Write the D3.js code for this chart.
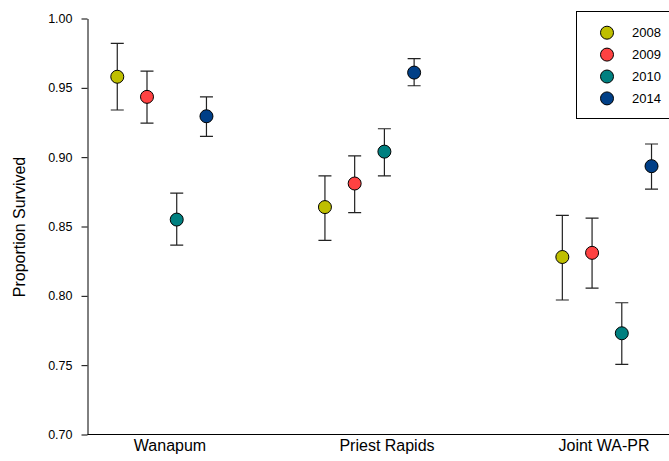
<!DOCTYPE html>
<html>
<head>
<meta charset="utf-8">
<script src="https://cdn.jsdelivr.net/npm/d3@7"></script>
<style>
  html, body { margin: 0; padding: 0; background: #fff; }
  svg { display: block; font-family: "Liberation Sans", Arial, sans-serif; }
</style>
</head>
<body>
<svg id="chart" width="669" height="461"></svg>
<script>
// Survival estimates by site and year, with confidence limits
const sites = ["Wanapum", "Priest Rapids", "Joint WA-PR"];
const sitePos = [1, 2, 3];                 // label positions on the x axis
const siteStart = [0.757, 1.714, 2.808];   // position of the first year's marker in each site
const yearStep = 0.137;                    // spacing between years within a site
const years = ["2008", "2009", "2010", "2014"];
const yearColors = ["#bfbf00", "#ff4242", "#008080", "#003f87"];

const est2008 = [0.958, 0.864, 0.828];
const est2009 = [0.9435, 0.881, 0.831];
const est2010 = [0.855, 0.904, 0.773];
const est2014 = [0.9295, 0.961, 0.8935];

const lo2008 = [0.934, 0.840, 0.797];
const hi2008 = [0.982, 0.8865, 0.858];
const lo2009 = [0.9245, 0.860, 0.8055];
const hi2009 = [0.962, 0.901, 0.856];
const lo2010 = [0.8365, 0.8865, 0.7505];
const hi2010 = [0.874, 0.9205, 0.795];
const lo2014 = [0.915, 0.9515, 0.877];
const hi2014 = [0.9435, 0.971, 0.9095];

const yTicks = [0.70, 0.75, 0.80, 0.85, 0.90, 0.95, 1.00];

const estimates = [est2008, est2009, est2010, est2014];
const lows = [lo2008, lo2009, lo2010, lo2014];
const highs = [hi2008, hi2009, hi2010, hi2014];

const points = [];
years.forEach((yr, yi) => {
  sites.forEach((s, si) => {
    points.push({
      year: yr, yi, site: s,
      x: siteStart[si] + yi * yearStep,
      v: estimates[yi][si], lo: lows[yi][si], hi: highs[yi][si]
    });
  });
});

const svg = d3.select("#chart");
const axisX = 87.5, axisBottom = 434.5, axisTop = 18.5;

const x = d3.scaleLinear().domain([1, 3]).range([170, 604]);
const y = d3.scaleLinear().domain([0.70, 1.00]).range([axisBottom, axisTop]);

// y axis
const yAxis = svg.append("g")
  .attr("transform", `translate(${axisX},0)`)
  .call(d3.axisLeft(y).tickValues(yTicks).tickFormat(d3.format(".2f"))
    .tickSize(6).tickSizeOuter(0).tickPadding(9));
yAxis.selectAll("path, line").attr("stroke", "#000").attr("stroke-width", 1);
yAxis.selectAll("text").attr("font-size", "12.5px").attr("fill", "#000")
  .attr("font-family", "Liberation Sans, Arial, sans-serif");

// x axis baseline
svg.append("line")
  .attr("x1", axisX).attr("x2", 669)
  .attr("y1", axisBottom).attr("y2", axisBottom)
  .attr("stroke", "#000").attr("stroke-width", 1);

svg.selectAll("text.site")
  .data(sites)
  .join("text")
  .attr("class", "site")
  .attr("x", (d, i) => x(sitePos[i]))
  .attr("y", 451)
  .attr("text-anchor", "middle")
  .attr("font-size", "16px")
  .attr("fill", "#000")
  .text(d => d);

// y axis title
svg.append("text")
  .attr("transform", "translate(25,227) rotate(-90)")
  .attr("text-anchor", "middle")
  .attr("font-size", "16px")
  .attr("fill", "#000")
  .text("Proportion Survived");

// error bars
const capHalf = 6.5;
const bars = svg.append("g").attr("stroke", "#222").attr("stroke-width", 1.2).attr("fill", "none");
bars.selectAll("path")
  .data(points)
  .join("path")
  .attr("d", d => {
    const cx = x(d.x), t = y(d.hi), b = y(d.lo);
    return `M${cx},${t}V${b}M${cx - capHalf},${t}H${cx + capHalf}M${cx - capHalf},${b}H${cx + capHalf}`;
  });

// markers
svg.append("g").selectAll("circle")
  .data(points)
  .join("circle")
  .attr("cx", d => x(d.x))
  .attr("cy", d => y(d.v))
  .attr("r", 6.5)
  .attr("fill", d => yearColors[d.yi])
  .attr("stroke", "#000")
  .attr("stroke-width", 1);

// legend
const legend = svg.append("g");
legend.append("rect")
  .attr("x", 576.5).attr("y", 11.5)
  .attr("width", 120).attr("height", 107)
  .attr("fill", "#fff").attr("stroke", "#000").attr("stroke-width", 1);
const items = legend.selectAll("g.item")
  .data(years)
  .join("g")
  .attr("class", "item")
  .attr("transform", (d, i) => `translate(0,${32.7 + i * 21.9})`);
items.append("circle")
  .attr("cx", 607).attr("cy", 0).attr("r", 6.5)
  .attr("fill", (d, i) => yearColors[i])
  .attr("stroke", "#000").attr("stroke-width", 1);
items.append("text")
  .attr("x", 632).attr("y", 4.6)
  .attr("font-size", "13px")
  .attr("fill", "#000")
  .text(d => d);
</script>
</body>
</html>
